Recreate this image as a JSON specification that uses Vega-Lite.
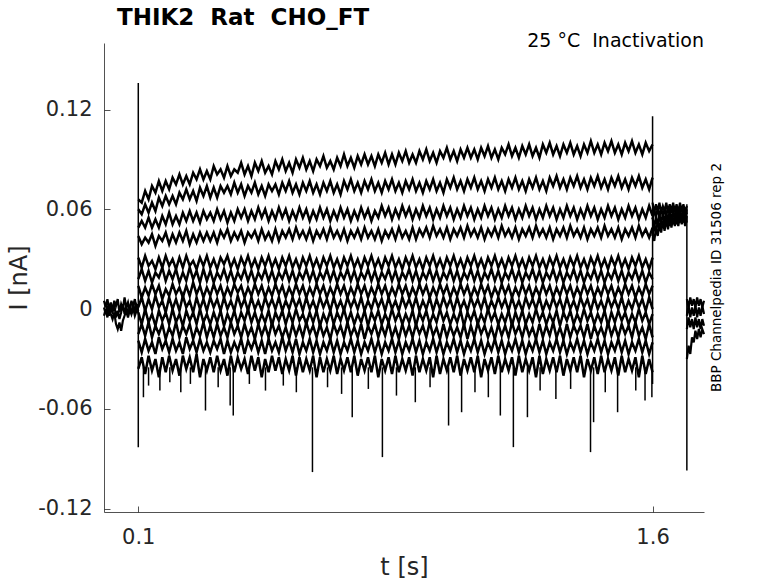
{
  "$schema": "https://vega.github.io/schema/vega-lite/v6.json",
  "width": 600,
  "height": 469,
  "autosize": "none",
  "padding": {"left": 104, "top": 43, "right": 74, "bottom": 71},
  "background": "white",
  "title": {"text": "THIK2\u00a0 Rat\u00a0 CHO_FT", "anchor": "start", "frame": "group", "dx": 13, "offset": -21, "baseline": "bottom", "font": "DejaVu Sans", "fontSize": 23, "fontWeight": "bold", "color": "#000"},
  "config": {
    "view": {"stroke": null},
    "font": "DejaVu Sans",
    "axis": {"grid": false, "domainColor": "#262626", "tickColor": "#262626", "labelColor": "#262626", "titleColor": "#262626", "labelFont": "DejaVu Sans", "titleFont": "DejaVu Sans", "labelFontSize": 21, "titleFontSize": 24, "titleFontWeight": "normal", "domainWidth": 0.8, "tickWidth": 0.8, "tickSize": -6}
  },
  "datasets": {
    "main": [
      {"t":0.1,"a":0.066,"b":0.06,"c":0.049,"d":0.044,"e":0.031,"f":0.018,"g":0.014,"h":0.001,"i":-0.002,"j":-0.015,"k":-0.019,"l":-0.036},
      {"t":0.11,"a":0.064,"b":0.057,"c":0.053,"d":0.039,"e":0.025,"f":0.024,"g":0.007,"h":0.007,"i":-0.009,"j":-0.009,"k":-0.026,"l":-0.029},
      {"t":0.12,"a":0.071,"b":0.063,"c":0.049,"d":0.043,"e":0.032,"f":0.017,"g":0.013,"h":-0.001,"i":0,"j":-0.016,"k":-0.018,"l":-0.039},
      {"t":0.13,"a":0.066,"b":0.058,"c":0.055,"d":0.04,"e":0.026,"f":0.023,"g":0.008,"h":0.006,"i":-0.008,"j":-0.008,"k":-0.025,"l":-0.028},
      {"t":0.14,"a":0.074,"b":0.064,"c":0.049,"d":0.045,"e":0.029,"f":0.016,"g":0.015,"h":0,"i":-0.003,"j":-0.017,"k":-0.02,"l":-0.037},
      {"t":0.15,"a":0.07,"b":0.059,"c":0.054,"d":0.038,"e":0.024,"f":0.022,"g":0.009,"h":0.008,"i":-0.01,"j":-0.01,"k":-0.027,"l":-0.03},
      {"t":0.16,"a":0.077,"b":0.067,"c":0.049,"d":0.044,"e":0.031,"f":0.019,"g":0.014,"h":0.001,"i":-0.001,"j":-0.015,"k":-0.017,"l":-0.041},
      {"t":0.17,"a":0.071,"b":0.062,"c":0.056,"d":0.041,"e":0.025,"f":0.025,"g":0.006,"h":0.005,"i":-0.007,"j":-0.009,"k":-0.024,"l":-0.029},
      {"t":0.18,"a":0.077,"b":0.068,"c":0.051,"d":0.046,"e":0.032,"f":0.017,"g":0.012,"h":-0.002,"i":-0.002,"j":-0.018,"k":-0.019,"l":-0.038},
      {"t":0.19,"a":0.072,"b":0.063,"c":0.058,"d":0.039,"e":0.026,"f":0.023,"g":0.008,"h":0.007,"i":-0.009,"j":-0.011,"k":-0.026,"l":-0.028},
      {"t":0.2,"a":0.079,"b":0.068,"c":0.051,"d":0.045,"e":0.03,"f":0.018,"g":0.015,"h":0,"i":0,"j":-0.016,"k":-0.018,"l":-0.037},
      {"t":0.21,"a":0.075,"b":0.063,"c":0.056,"d":0.04,"e":0.024,"f":0.024,"g":0.009,"h":0.006,"i":-0.008,"j":-0.008,"k":-0.025,"l":-0.03},
      {"t":0.22,"a":0.081,"b":0.07,"c":0.051,"d":0.046,"e":0.031,"f":0.016,"g":0.013,"h":-0.001,"i":-0.003,"j":-0.017,"k":-0.02,"l":-0.04},
      {"t":0.23,"a":0.075,"b":0.066,"c":0.058,"d":0.041,"e":0.025,"f":0.022,"g":0.007,"h":0.008,"i":-0.01,"j":-0.01,"k":-0.027,"l":-0.028},
      {"t":0.24,"a":0.08,"b":0.072,"c":0.053,"d":0.047,"e":0.032,"f":0.017,"g":0.014,"h":0.001,"i":-0.001,"j":-0.015,"k":-0.017,"l":-0.036},
      {"t":0.25,"a":0.075,"b":0.066,"c":0.059,"d":0.039,"e":0.026,"f":0.025,"g":0.008,"h":0.005,"i":-0.007,"j":-0.009,"k":-0.024,"l":-0.029},
      {"t":0.26,"a":0.082,"b":0.071,"c":0.053,"d":0.045,"e":0.029,"f":0.018,"g":0.016,"h":-0.002,"i":-0.002,"j":-0.018,"k":-0.019,"l":-0.038},
      {"t":0.27,"a":0.078,"b":0.065,"c":0.058,"d":0.04,"e":0.024,"f":0.023,"g":0.009,"h":0.007,"i":-0.009,"j":-0.011,"k":-0.026,"l":-0.027},
      {"t":0.28,"a":0.084,"b":0.073,"c":0.052,"d":0.046,"e":0.031,"f":0.016,"g":0.014,"h":0,"i":0,"j":-0.016,"k":-0.018,"l":-0.041},
      {"t":0.29,"a":0.078,"b":0.068,"c":0.059,"d":0.041,"e":0.026,"f":0.024,"g":0.007,"h":0.006,"i":-0.008,"j":-0.008,"k":-0.025,"l":-0.03},
      {"t":0.3,"a":0.083,"b":0.074,"c":0.054,"d":0.046,"e":0.032,"f":0.017,"g":0.013,"h":-0.001,"i":-0.003,"j":-0.017,"k":-0.02,"l":-0.037},
      {"t":0.31,"a":0.078,"b":0.067,"c":0.058,"d":0.041,"e":0.025,"f":0.023,"g":0.008,"h":0.007,"i":-0.009,"j":-0.01,"k":-0.026,"l":-0.029},
      {"t":0.32,"a":0.086,"b":0.073,"c":0.053,"d":0.046,"e":0.03,"f":0.016,"g":0.015,"h":0.001,"i":-0.002,"j":-0.017,"k":-0.019,"l":-0.038},
      {"t":0.33,"a":0.081,"b":0.067,"c":0.06,"d":0.04,"e":0.024,"f":0.022,"g":0.009,"h":0.006,"i":-0.008,"j":-0.009,"k":-0.024,"l":-0.028},
      {"t":0.34,"a":0.084,"b":0.074,"c":0.054,"d":0.047,"e":0.031,"f":0.018,"g":0.014,"h":-0.001,"i":-0.001,"j":-0.016,"k":-0.018,"l":-0.037},
      {"t":0.35,"a":0.079,"b":0.07,"c":0.059,"d":0.043,"e":0.027,"f":0.024,"g":0.007,"h":0.007,"i":-0.01,"j":-0.011,"k":-0.027,"l":-0.03},
      {"t":0.36,"a":0.086,"b":0.074,"c":0.052,"d":0.048,"e":0.032,"f":0.017,"g":0.013,"h":0,"i":-0.003,"j":-0.017,"k":-0.019,"l":-0.04},
      {"t":0.37,"a":0.08,"b":0.069,"c":0.058,"d":0.041,"e":0.025,"f":0.023,"g":0.008,"h":0.005,"i":-0.008,"j":-0.008,"k":-0.026,"l":-0.028},
      {"t":0.38,"a":0.084,"b":0.076,"c":0.053,"d":0.046,"e":0.03,"f":0.016,"g":0.015,"h":-0.001,"i":-0.001,"j":-0.015,"k":-0.02,"l":-0.038},
      {"t":0.39,"a":0.082,"b":0.07,"c":0.06,"d":0.042,"e":0.024,"f":0.022,"g":0.01,"h":0.008,"i":-0.009,"j":-0.01,"k":-0.025,"l":-0.029},
      {"t":0.4,"a":0.088,"b":0.075,"c":0.055,"d":0.047,"e":0.031,"f":0.018,"g":0.014,"h":0.001,"i":-0.002,"j":-0.017,"k":-0.018,"l":-0.036},
      {"t":0.41,"a":0.081,"b":0.068,"c":0.06,"d":0.04,"e":0.026,"f":0.024,"g":0.007,"h":0.006,"i":-0.007,"j":-0.009,"k":-0.027,"l":-0.03},
      {"t":0.42,"a":0.086,"b":0.074,"c":0.053,"d":0.046,"e":0.032,"f":0.017,"g":0.013,"h":-0.001,"i":0,"j":-0.016,"k":-0.019,"l":-0.039},
      {"t":0.43,"a":0.08,"b":0.07,"c":0.059,"d":0.043,"e":0.025,"f":0.023,"g":0.008,"h":0.007,"i":-0.008,"j":-0.011,"k":-0.024,"l":-0.028},
      {"t":0.44,"a":0.088,"b":0.076,"c":0.054,"d":0.047,"e":0.03,"f":0.016,"g":0.015,"h":0,"i":-0.002,"j":-0.018,"k":-0.018,"l":-0.037},
      {"t":0.45,"a":0.083,"b":0.069,"c":0.061,"d":0.041,"e":0.024,"f":0.022,"g":0.009,"h":0.005,"i":-0.009,"j":-0.009,"k":-0.026,"l":-0.029},
      {"t":0.46,"a":0.089,"b":0.074,"c":0.055,"d":0.048,"e":0.031,"f":0.018,"g":0.014,"h":-0.001,"i":-0.003,"j":-0.016,"k":-0.019,"l":-0.041},
      {"t":0.47,"a":0.082,"b":0.068,"c":0.06,"d":0.042,"e":0.026,"f":0.024,"g":0.007,"h":0.007,"i":-0.008,"j":-0.01,"k":-0.027,"l":-0.03},
      {"t":0.48,"a":0.086,"b":0.075,"c":0.053,"d":0.046,"e":0.032,"f":0.017,"g":0.013,"h":0.001,"i":-0.001,"j":-0.017,"k":-0.018,"l":-0.038},
      {"t":0.49,"a":0.081,"b":0.071,"c":0.059,"d":0.041,"e":0.025,"f":0.023,"g":0.008,"h":0.006,"i":-0.01,"j":-0.008,"k":-0.025,"l":-0.028},
      {"t":0.5,"a":0.089,"b":0.075,"c":0.054,"d":0.048,"e":0.03,"f":0.016,"g":0.015,"h":0,"i":-0.002,"j":-0.015,"k":-0.02,"l":-0.037},
      {"t":0.51,"a":0.084,"b":0.069,"c":0.061,"d":0.041,"e":0.024,"f":0.022,"g":0.009,"h":0.007,"i":-0.007,"j":-0.01,"k":-0.026,"l":-0.029},
      {"t":0.52,"a":0.09,"b":0.076,"c":0.055,"d":0.047,"e":0.031,"f":0.018,"g":0.014,"h":-0.001,"i":-0.001,"j":-0.017,"k":-0.017,"l":-0.039},
      {"t":0.53,"a":0.083,"b":0.071,"c":0.06,"d":0.043,"e":0.026,"f":0.024,"g":0.007,"h":0.005,"i":-0.009,"j":-0.011,"k":-0.025,"l":-0.03},
      {"t":0.54,"a":0.088,"b":0.077,"c":0.053,"d":0.048,"e":0.032,"f":0.017,"g":0.013,"h":0,"i":-0.002,"j":-0.018,"k":-0.019,"l":-0.037},
      {"t":0.55,"a":0.082,"b":0.07,"c":0.059,"d":0.042,"e":0.025,"f":0.023,"g":0.008,"h":0.007,"i":-0.008,"j":-0.009,"k":-0.026,"l":-0.028},
      {"t":0.56,"a":0.09,"b":0.075,"c":0.054,"d":0.049,"e":0.03,"f":0.016,"g":0.015,"h":0.001,"i":0,"j":-0.016,"k":-0.018,"l":-0.04},
      {"t":0.57,"a":0.085,"b":0.069,"c":0.061,"d":0.043,"e":0.024,"f":0.022,"g":0.009,"h":0.006,"i":-0.007,"j":-0.01,"k":-0.027,"l":-0.029},
      {"t":0.58,"a":0.091,"b":0.076,"c":0.055,"d":0.047,"e":0.031,"f":0.018,"g":0.014,"h":-0.001,"i":-0.003,"j":-0.017,"k":-0.02,"l":-0.038},
      {"t":0.59,"a":0.084,"b":0.071,"c":0.06,"d":0.042,"e":0.026,"f":0.024,"g":0.007,"h":0.007,"i":-0.009,"j":-0.008,"k":-0.025,"l":-0.03},
      {"t":0.6,"a":0.089,"b":0.077,"c":0.053,"d":0.048,"e":0.032,"f":0.017,"g":0.013,"h":0,"i":-0.002,"j":-0.015,"k":-0.018,"l":-0.037},
      {"t":0.61,"a":0.083,"b":0.07,"c":0.059,"d":0.041,"e":0.025,"f":0.023,"g":0.008,"h":0.005,"i":-0.008,"j":-0.01,"k":-0.026,"l":-0.028},
      {"t":0.62,"a":0.09,"b":0.075,"c":0.054,"d":0.047,"e":0.03,"f":0.016,"g":0.015,"h":-0.001,"i":-0.001,"j":-0.017,"k":-0.019,"l":-0.041},
      {"t":0.63,"a":0.086,"b":0.069,"c":0.061,"d":0.043,"e":0.024,"f":0.022,"g":0.009,"h":0.007,"i":-0.01,"j":-0.009,"k":-0.027,"l":-0.029},
      {"t":0.64,"a":0.092,"b":0.076,"c":0.055,"d":0.048,"e":0.031,"f":0.018,"g":0.014,"h":0.001,"i":-0.003,"j":-0.016,"k":-0.02,"l":-0.038},
      {"t":0.65,"a":0.085,"b":0.071,"c":0.06,"d":0.042,"e":0.026,"f":0.024,"g":0.007,"h":0.006,"i":-0.008,"j":-0.011,"k":-0.025,"l":-0.03},
      {"t":0.66,"a":0.089,"b":0.077,"c":0.053,"d":0.049,"e":0.032,"f":0.017,"g":0.013,"h":-0.001,"i":-0.001,"j":-0.018,"k":-0.018,"l":-0.037},
      {"t":0.67,"a":0.084,"b":0.07,"c":0.059,"d":0.043,"e":0.025,"f":0.023,"g":0.008,"h":0.007,"i":-0.009,"j":-0.009,"k":-0.026,"l":-0.028},
      {"t":0.68,"a":0.091,"b":0.075,"c":0.054,"d":0.047,"e":0.03,"f":0.016,"g":0.015,"h":0,"i":-0.002,"j":-0.015,"k":-0.019,"l":-0.039},
      {"t":0.69,"a":0.086,"b":0.069,"c":0.061,"d":0.042,"e":0.024,"f":0.022,"g":0.009,"h":0.005,"i":-0.007,"j":-0.01,"k":-0.027,"l":-0.03},
      {"t":0.7,"a":0.093,"b":0.077,"c":0.055,"d":0.048,"e":0.031,"f":0.018,"g":0.014,"h":-0.001,"i":0,"j":-0.017,"k":-0.02,"l":-0.037},
      {"t":0.71,"a":0.086,"b":0.072,"c":0.06,"d":0.041,"e":0.026,"f":0.024,"g":0.007,"h":0.007,"i":-0.008,"j":-0.008,"k":-0.025,"l":-0.029},
      {"t":0.72,"a":0.091,"b":0.078,"c":0.053,"d":0.047,"e":0.032,"f":0.017,"g":0.013,"h":0.001,"i":-0.002,"j":-0.016,"k":-0.018,"l":-0.038},
      {"t":0.73,"a":0.085,"b":0.071,"c":0.059,"d":0.043,"e":0.025,"f":0.023,"g":0.008,"h":0.006,"i":-0.009,"j":-0.011,"k":-0.026,"l":-0.028},
      {"t":0.74,"a":0.092,"b":0.076,"c":0.054,"d":0.048,"e":0.03,"f":0.016,"g":0.015,"h":0,"i":-0.003,"j":-0.017,"k":-0.019,"l":-0.04},
      {"t":0.75,"a":0.087,"b":0.07,"c":0.061,"d":0.042,"e":0.024,"f":0.022,"g":0.009,"h":0.007,"i":-0.008,"j":-0.009,"k":-0.027,"l":-0.03},
      {"t":0.76,"a":0.093,"b":0.077,"c":0.055,"d":0.049,"e":0.031,"f":0.018,"g":0.014,"h":-0.001,"i":-0.001,"j":-0.018,"k":-0.02,"l":-0.037},
      {"t":0.77,"a":0.087,"b":0.072,"c":0.06,"d":0.043,"e":0.026,"f":0.024,"g":0.007,"h":0.005,"i":-0.01,"j":-0.01,"k":-0.025,"l":-0.029},
      {"t":0.78,"a":0.092,"b":0.078,"c":0.053,"d":0.047,"e":0.032,"f":0.017,"g":0.013,"h":0,"i":-0.002,"j":-0.015,"k":-0.018,"l":-0.038},
      {"t":0.79,"a":0.086,"b":0.071,"c":0.059,"d":0.042,"e":0.025,"f":0.023,"g":0.008,"h":0.007,"i":-0.007,"j":-0.009,"k":-0.026,"l":-0.028},
      {"t":0.8,"a":0.093,"b":0.076,"c":0.055,"d":0.048,"e":0.03,"f":0.016,"g":0.015,"h":0.001,"i":-0.001,"j":-0.017,"k":-0.019,"l":-0.041},
      {"t":0.81,"a":0.088,"b":0.07,"c":0.062,"d":0.041,"e":0.024,"f":0.022,"g":0.009,"h":0.006,"i":-0.009,"j":-0.01,"k":-0.027,"l":-0.03},
      {"t":0.82,"a":0.094,"b":0.077,"c":0.056,"d":0.047,"e":0.031,"f":0.018,"g":0.014,"h":-0.001,"i":-0.003,"j":-0.016,"k":-0.02,"l":-0.037},
      {"t":0.83,"a":0.087,"b":0.072,"c":0.061,"d":0.043,"e":0.026,"f":0.024,"g":0.007,"h":0.007,"i":-0.008,"j":-0.008,"k":-0.025,"l":-0.029},
      {"t":0.84,"a":0.093,"b":0.078,"c":0.054,"d":0.048,"e":0.032,"f":0.017,"g":0.013,"h":0,"i":0,"j":-0.017,"k":-0.018,"l":-0.039},
      {"t":0.85,"a":0.087,"b":0.071,"c":0.06,"d":0.042,"e":0.025,"f":0.023,"g":0.008,"h":0.005,"i":-0.007,"j":-0.011,"k":-0.026,"l":-0.028},
      {"t":0.86,"a":0.094,"b":0.076,"c":0.055,"d":0.049,"e":0.03,"f":0.016,"g":0.015,"h":-0.001,"i":-0.002,"j":-0.018,"k":-0.019,"l":-0.038},
      {"t":0.87,"a":0.089,"b":0.07,"c":0.062,"d":0.043,"e":0.024,"f":0.022,"g":0.009,"h":0.007,"i":-0.009,"j":-0.009,"k":-0.027,"l":-0.03},
      {"t":0.88,"a":0.095,"b":0.077,"c":0.056,"d":0.047,"e":0.031,"f":0.018,"g":0.014,"h":0.001,"i":-0.003,"j":-0.016,"k":-0.02,"l":-0.037},
      {"t":0.89,"a":0.088,"b":0.072,"c":0.061,"d":0.042,"e":0.026,"f":0.024,"g":0.007,"h":0.006,"i":-0.008,"j":-0.01,"k":-0.025,"l":-0.029},
      {"t":0.9,"a":0.093,"b":0.078,"c":0.054,"d":0.049,"e":0.032,"f":0.017,"g":0.013,"h":0,"i":-0.001,"j":-0.017,"k":-0.018,"l":-0.04},
      {"t":0.91,"a":0.088,"b":0.071,"c":0.06,"d":0.042,"e":0.025,"f":0.023,"g":0.008,"h":0.007,"i":-0.01,"j":-0.009,"k":-0.026,"l":-0.028},
      {"t":0.92,"a":0.095,"b":0.076,"c":0.055,"d":0.048,"e":0.03,"f":0.016,"g":0.015,"h":-0.001,"i":-0.002,"j":-0.015,"k":-0.019,"l":-0.038},
      {"t":0.93,"a":0.09,"b":0.07,"c":0.062,"d":0.044,"e":0.024,"f":0.022,"g":0.009,"h":0.005,"i":-0.007,"j":-0.01,"k":-0.027,"l":-0.03},
      {"t":0.94,"a":0.096,"b":0.077,"c":0.056,"d":0.049,"e":0.031,"f":0.018,"g":0.014,"h":0,"i":-0.001,"j":-0.017,"k":-0.02,"l":-0.037},
      {"t":0.95,"a":0.089,"b":0.072,"c":0.061,"d":0.043,"e":0.026,"f":0.024,"g":0.007,"h":0.007,"i":-0.009,"j":-0.008,"k":-0.025,"l":-0.029},
      {"t":0.96,"a":0.094,"b":0.078,"c":0.054,"d":0.05,"e":0.032,"f":0.017,"g":0.013,"h":-0.001,"i":-0.003,"j":-0.016,"k":-0.018,"l":-0.041},
      {"t":0.97,"a":0.088,"b":0.071,"c":0.06,"d":0.044,"e":0.025,"f":0.023,"g":0.008,"h":0.006,"i":-0.008,"j":-0.011,"k":-0.026,"l":-0.028},
      {"t":0.98,"a":0.095,"b":0.076,"c":0.055,"d":0.048,"e":0.03,"f":0.016,"g":0.015,"h":0,"i":0,"j":-0.018,"k":-0.019,"l":-0.039},
      {"t":0.99,"a":0.091,"b":0.07,"c":0.062,"d":0.043,"e":0.024,"f":0.022,"g":0.009,"h":0.007,"i":-0.007,"j":-0.009,"k":-0.027,"l":-0.03},
      {"t":1.0,"a":0.097,"b":0.078,"c":0.056,"d":0.049,"e":0.031,"f":0.018,"g":0.014,"h":0.001,"i":-0.002,"j":-0.017,"k":-0.02,"l":-0.037},
      {"t":1.01,"a":0.09,"b":0.073,"c":0.061,"d":0.042,"e":0.026,"f":0.024,"g":0.007,"h":0.006,"i":-0.009,"j":-0.01,"k":-0.025,"l":-0.029},
      {"t":1.02,"a":0.095,"b":0.079,"c":0.054,"d":0.048,"e":0.032,"f":0.017,"g":0.013,"h":-0.001,"i":-0.003,"j":-0.016,"k":-0.018,"l":-0.038},
      {"t":1.03,"a":0.089,"b":0.072,"c":0.06,"d":0.044,"e":0.025,"f":0.023,"g":0.008,"h":0.007,"i":-0.008,"j":-0.011,"k":-0.026,"l":-0.028},
      {"t":1.04,"a":0.096,"b":0.077,"c":0.055,"d":0.049,"e":0.03,"f":0.016,"g":0.015,"h":0,"i":-0.001,"j":-0.017,"k":-0.019,"l":-0.04},
      {"t":1.05,"a":0.091,"b":0.071,"c":0.062,"d":0.043,"e":0.024,"f":0.022,"g":0.009,"h":0.005,"i":-0.01,"j":-0.009,"k":-0.027,"l":-0.03},
      {"t":1.06,"a":0.097,"b":0.078,"c":0.056,"d":0.05,"e":0.031,"f":0.018,"g":0.014,"h":-0.001,"i":-0.002,"j":-0.018,"k":-0.02,"l":-0.037},
      {"t":1.07,"a":0.091,"b":0.073,"c":0.061,"d":0.044,"e":0.026,"f":0.024,"g":0.007,"h":0.007,"i":-0.007,"j":-0.01,"k":-0.025,"l":-0.029},
      {"t":1.08,"a":0.096,"b":0.079,"c":0.054,"d":0.048,"e":0.032,"f":0.017,"g":0.013,"h":0.001,"i":-0.001,"j":-0.017,"k":-0.018,"l":-0.038},
      {"t":1.09,"a":0.09,"b":0.072,"c":0.06,"d":0.043,"e":0.025,"f":0.023,"g":0.008,"h":0.006,"i":-0.009,"j":-0.008,"k":-0.026,"l":-0.028},
      {"t":1.1,"a":0.097,"b":0.077,"c":0.055,"d":0.049,"e":0.03,"f":0.016,"g":0.015,"h":0,"i":-0.003,"j":-0.015,"k":-0.019,"l":-0.041},
      {"t":1.11,"a":0.092,"b":0.071,"c":0.062,"d":0.042,"e":0.024,"f":0.022,"g":0.009,"h":0.007,"i":-0.008,"j":-0.01,"k":-0.027,"l":-0.03},
      {"t":1.12,"a":0.098,"b":0.078,"c":0.056,"d":0.048,"e":0.031,"f":0.018,"g":0.014,"h":-0.001,"i":0,"j":-0.017,"k":-0.02,"l":-0.037},
      {"t":1.13,"a":0.091,"b":0.073,"c":0.061,"d":0.044,"e":0.026,"f":0.024,"g":0.007,"h":0.005,"i":-0.007,"j":-0.011,"k":-0.025,"l":-0.029},
      {"t":1.14,"a":0.096,"b":0.079,"c":0.054,"d":0.049,"e":0.032,"f":0.017,"g":0.013,"h":0,"i":-0.002,"j":-0.018,"k":-0.018,"l":-0.039},
      {"t":1.15,"a":0.09,"b":0.072,"c":0.06,"d":0.043,"e":0.025,"f":0.023,"g":0.008,"h":0.007,"i":-0.009,"j":-0.009,"k":-0.026,"l":-0.028},
      {"t":1.16,"a":0.097,"b":0.077,"c":0.055,"d":0.05,"e":0.03,"f":0.016,"g":0.015,"h":0.001,"i":-0.003,"j":-0.016,"k":-0.019,"l":-0.038},
      {"t":1.17,"a":0.093,"b":0.071,"c":0.062,"d":0.044,"e":0.024,"f":0.022,"g":0.009,"h":0.006,"i":-0.008,"j":-0.01,"k":-0.027,"l":-0.03},
      {"t":1.18,"a":0.099,"b":0.078,"c":0.056,"d":0.048,"e":0.031,"f":0.018,"g":0.014,"h":-0.001,"i":-0.001,"j":-0.017,"k":-0.02,"l":-0.037},
      {"t":1.19,"a":0.092,"b":0.073,"c":0.061,"d":0.043,"e":0.026,"f":0.024,"g":0.007,"h":0.007,"i":-0.01,"j":-0.008,"k":-0.025,"l":-0.029},
      {"t":1.2,"a":0.097,"b":0.079,"c":0.054,"d":0.049,"e":0.032,"f":0.017,"g":0.013,"h":0,"i":-0.002,"j":-0.015,"k":-0.018,"l":-0.04},
      {"t":1.21,"a":0.091,"b":0.072,"c":0.06,"d":0.042,"e":0.025,"f":0.023,"g":0.008,"h":0.005,"i":-0.008,"j":-0.01,"k":-0.026,"l":-0.028},
      {"t":1.22,"a":0.098,"b":0.077,"c":0.055,"d":0.048,"e":0.03,"f":0.016,"g":0.015,"h":-0.001,"i":-0.001,"j":-0.017,"k":-0.019,"l":-0.038},
      {"t":1.23,"a":0.093,"b":0.071,"c":0.062,"d":0.044,"e":0.024,"f":0.022,"g":0.009,"h":0.007,"i":-0.009,"j":-0.009,"k":-0.027,"l":-0.03},
      {"t":1.24,"a":0.099,"b":0.078,"c":0.056,"d":0.049,"e":0.031,"f":0.018,"g":0.014,"h":0.001,"i":-0.003,"j":-0.016,"k":-0.02,"l":-0.037},
      {"t":1.25,"a":0.092,"b":0.073,"c":0.061,"d":0.043,"e":0.026,"f":0.024,"g":0.007,"h":0.006,"i":-0.008,"j":-0.011,"k":-0.025,"l":-0.029},
      {"t":1.26,"a":0.097,"b":0.079,"c":0.054,"d":0.05,"e":0.032,"f":0.017,"g":0.013,"h":0,"i":0,"j":-0.018,"k":-0.018,"l":-0.041},
      {"t":1.27,"a":0.091,"b":0.072,"c":0.06,"d":0.044,"e":0.025,"f":0.023,"g":0.008,"h":0.007,"i":-0.007,"j":-0.009,"k":-0.026,"l":-0.028},
      {"t":1.28,"a":0.099,"b":0.077,"c":0.055,"d":0.048,"e":0.03,"f":0.016,"g":0.015,"h":-0.001,"i":-0.002,"j":-0.017,"k":-0.019,"l":-0.039},
      {"t":1.29,"a":0.094,"b":0.071,"c":0.062,"d":0.043,"e":0.024,"f":0.022,"g":0.009,"h":0.005,"i":-0.009,"j":-0.01,"k":-0.027,"l":-0.03},
      {"t":1.3,"a":0.1,"b":0.079,"c":0.056,"d":0.049,"e":0.031,"f":0.018,"g":0.014,"h":0,"i":-0.003,"j":-0.016,"k":-0.02,"l":-0.037},
      {"t":1.31,"a":0.093,"b":0.074,"c":0.061,"d":0.042,"e":0.026,"f":0.024,"g":0.007,"h":0.007,"i":-0.008,"j":-0.008,"k":-0.025,"l":-0.029},
      {"t":1.32,"a":0.098,"b":0.08,"c":0.054,"d":0.048,"e":0.032,"f":0.017,"g":0.013,"h":0.001,"i":-0.001,"j":-0.017,"k":-0.018,"l":-0.038},
      {"t":1.33,"a":0.092,"b":0.073,"c":0.06,"d":0.044,"e":0.025,"f":0.023,"g":0.008,"h":0.006,"i":-0.01,"j":-0.011,"k":-0.026,"l":-0.028},
      {"t":1.34,"a":0.099,"b":0.078,"c":0.055,"d":0.049,"e":0.03,"f":0.016,"g":0.015,"h":-0.001,"i":-0.002,"j":-0.018,"k":-0.019,"l":-0.04},
      {"t":1.35,"a":0.094,"b":0.072,"c":0.062,"d":0.043,"e":0.024,"f":0.022,"g":0.009,"h":0.007,"i":-0.007,"j":-0.009,"k":-0.027,"l":-0.03},
      {"t":1.36,"a":0.1,"b":0.079,"c":0.056,"d":0.05,"e":0.031,"f":0.018,"g":0.014,"h":0,"i":-0.001,"j":-0.017,"k":-0.02,"l":-0.037},
      {"t":1.37,"a":0.093,"b":0.074,"c":0.061,"d":0.044,"e":0.026,"f":0.024,"g":0.007,"h":0.005,"i":-0.009,"j":-0.01,"k":-0.025,"l":-0.029},
      {"t":1.38,"a":0.098,"b":0.08,"c":0.054,"d":0.048,"e":0.032,"f":0.017,"g":0.013,"h":-0.001,"i":-0.003,"j":-0.015,"k":-0.018,"l":-0.038},
      {"t":1.39,"a":0.092,"b":0.073,"c":0.06,"d":0.043,"e":0.025,"f":0.023,"g":0.008,"h":0.007,"i":-0.008,"j":-0.01,"k":-0.026,"l":-0.028},
      {"t":1.4,"a":0.099,"b":0.078,"c":0.055,"d":0.049,"e":0.03,"f":0.016,"g":0.015,"h":0.001,"i":0,"j":-0.017,"k":-0.019,"l":-0.041},
      {"t":1.41,"a":0.094,"b":0.072,"c":0.062,"d":0.042,"e":0.024,"f":0.022,"g":0.009,"h":0.006,"i":-0.007,"j":-0.009,"k":-0.027,"l":-0.03},
      {"t":1.42,"a":0.101,"b":0.079,"c":0.056,"d":0.048,"e":0.031,"f":0.018,"g":0.014,"h":-0.001,"i":-0.002,"j":-0.018,"k":-0.02,"l":-0.037},
      {"t":1.43,"a":0.094,"b":0.074,"c":0.061,"d":0.044,"e":0.026,"f":0.024,"g":0.007,"h":0.007,"i":-0.009,"j":-0.01,"k":-0.025,"l":-0.029},
      {"t":1.44,"a":0.099,"b":0.08,"c":0.054,"d":0.049,"e":0.032,"f":0.017,"g":0.013,"h":0,"i":-0.003,"j":-0.016,"k":-0.018,"l":-0.039},
      {"t":1.45,"a":0.093,"b":0.073,"c":0.06,"d":0.043,"e":0.025,"f":0.023,"g":0.008,"h":0.005,"i":-0.008,"j":-0.011,"k":-0.026,"l":-0.028},
      {"t":1.46,"a":0.1,"b":0.078,"c":0.055,"d":0.05,"e":0.03,"f":0.016,"g":0.015,"h":-0.001,"i":-0.001,"j":-0.017,"k":-0.019,"l":-0.038},
      {"t":1.47,"a":0.095,"b":0.072,"c":0.062,"d":0.044,"e":0.024,"f":0.022,"g":0.009,"h":0.007,"i":-0.01,"j":-0.008,"k":-0.027,"l":-0.03},
      {"t":1.48,"a":0.101,"b":0.079,"c":0.056,"d":0.048,"e":0.031,"f":0.018,"g":0.014,"h":0.001,"i":-0.002,"j":-0.016,"k":-0.02,"l":-0.037},
      {"t":1.49,"a":0.094,"b":0.074,"c":0.061,"d":0.043,"e":0.026,"f":0.024,"g":0.007,"h":0.006,"i":-0.008,"j":-0.01,"k":-0.025,"l":-0.029},
      {"t":1.5,"a":0.099,"b":0.08,"c":0.054,"d":0.049,"e":0.032,"f":0.017,"g":0.013,"h":0,"i":-0.001,"j":-0.017,"k":-0.018,"l":-0.04},
      {"t":1.51,"a":0.093,"b":0.073,"c":0.06,"d":0.042,"e":0.025,"f":0.023,"g":0.008,"h":0.007,"i":-0.007,"j":-0.009,"k":-0.026,"l":-0.028},
      {"t":1.52,"a":0.1,"b":0.078,"c":0.055,"d":0.048,"e":0.03,"f":0.016,"g":0.015,"h":-0.001,"i":-0.002,"j":-0.015,"k":-0.019,"l":-0.038},
      {"t":1.53,"a":0.095,"b":0.072,"c":0.062,"d":0.044,"e":0.024,"f":0.022,"g":0.009,"h":0.005,"i":-0.009,"j":-0.01,"k":-0.027,"l":-0.03},
      {"t":1.54,"a":0.101,"b":0.079,"c":0.056,"d":0.049,"e":0.031,"f":0.018,"g":0.014,"h":0,"i":-0.003,"j":-0.017,"k":-0.02,"l":-0.037},
      {"t":1.55,"a":0.094,"b":0.074,"c":0.061,"d":0.043,"e":0.026,"f":0.024,"g":0.007,"h":0.007,"i":-0.008,"j":-0.008,"k":-0.025,"l":-0.029},
      {"t":1.56,"a":0.099,"b":0.08,"c":0.054,"d":0.05,"e":0.032,"f":0.017,"g":0.013,"h":0.001,"i":0,"j":-0.016,"k":-0.018,"l":-0.041},
      {"t":1.57,"a":0.093,"b":0.073,"c":0.06,"d":0.044,"e":0.025,"f":0.023,"g":0.008,"h":0.006,"i":-0.007,"j":-0.011,"k":-0.026,"l":-0.028},
      {"t":1.58,"a":0.1,"b":0.078,"c":0.055,"d":0.048,"e":0.03,"f":0.016,"g":0.015,"h":-0.001,"i":-0.002,"j":-0.018,"k":-0.019,"l":-0.039},
      {"t":1.59,"a":0.095,"b":0.072,"c":0.062,"d":0.043,"e":0.024,"f":0.022,"g":0.009,"h":0.007,"i":-0.009,"j":-0.009,"k":-0.027,"l":-0.03},
      {"t":1.6,"a":0.099,"b":0.079,"c":0.056,"d":0.049,"e":0.031,"f":0.018,"g":0.014,"h":0,"i":-0.003,"j":-0.017,"k":-0.02,"l":-0.038}
    ],
    "base": [
      {"t":0,"p":0.005,"q":-0.004,"r":0.001},
      {"t":0.005,"p":0.001,"q":0,"r":-0.003},
      {"t":0.01,"p":0.006,"q":-0.005,"r":0.002},
      {"t":0.015,"p":0,"q":0.001,"r":-0.004},
      {"t":0.02,"p":0.004,"q":-0.003,"r":0},
      {"t":0.025,"p":-0.001,"q":-0.006,"r":-0.002},
      {"t":0.03,"p":0.005,"q":-0.002,"r":0.003},
      {"t":0.035,"p":0.002,"q":-0.009,"r":-0.005},
      {"t":0.04,"p":0.006,"q":-0.012,"r":-0.001},
      {"t":0.045,"p":-0.002,"q":-0.008,"r":-0.006},
      {"t":0.05,"p":0.003,"q":-0.013,"r":-0.002},
      {"t":0.055,"p":0,"q":-0.007,"r":0.003},
      {"t":0.06,"p":0.007,"q":-0.004,"r":-0.003},
      {"t":0.065,"p":0.001,"q":-0.001,"r":0.002},
      {"t":0.07,"p":0.004,"q":-0.005,"r":-0.004},
      {"t":0.075,"p":-0.001,"q":0,"r":0.001},
      {"t":0.08,"p":0.005,"q":-0.003,"r":-0.003},
      {"t":0.085,"p":0.002,"q":0.001,"r":0.004},
      {"t":0.09,"p":0.006,"q":-0.004,"r":-0.002},
      {"t":0.095,"p":0,"q":-0.001,"r":0.002},
      {"t":0.1,"p":0.003,"q":-0.002,"r":-0.001}
    ],
    "tail": [
      {"t":1.6,"p1":0.064,"p2":0.054,"p3":0.055,"p4":0.044,"p5":0.045},
      {"t":1.605,"p1":0.058,"p2":0.06,"p3":0.049,"p4":0.051,"p5":0.041},
      {"t":1.61,"p1":0.063,"p2":0.055,"p3":0.056,"p4":0.046,"p5":0.049},
      {"t":1.615,"p1":0.059,"p2":0.061,"p3":0.05,"p4":0.053,"p5":0.044},
      {"t":1.62,"p1":0.064,"p2":0.055,"p3":0.057,"p4":0.048,"p5":0.051},
      {"t":1.625,"p1":0.058,"p2":0.061,"p3":0.051,"p4":0.054,"p5":0.046},
      {"t":1.63,"p1":0.062,"p2":0.056,"p3":0.058,"p4":0.049,"p5":0.053},
      {"t":1.635,"p1":0.059,"p2":0.06,"p3":0.052,"p4":0.055,"p5":0.047},
      {"t":1.64,"p1":0.064,"p2":0.056,"p3":0.058,"p4":0.05,"p5":0.054},
      {"t":1.645,"p1":0.058,"p2":0.062,"p3":0.053,"p4":0.056,"p5":0.048},
      {"t":1.65,"p1":0.063,"p2":0.056,"p3":0.059,"p4":0.05,"p5":0.055},
      {"t":1.655,"p1":0.059,"p2":0.061,"p3":0.053,"p4":0.057,"p5":0.049},
      {"t":1.66,"p1":0.064,"p2":0.057,"p3":0.059,"p4":0.051,"p5":0.055},
      {"t":1.665,"p1":0.058,"p2":0.062,"p3":0.054,"p4":0.057,"p5":0.05},
      {"t":1.67,"p1":0.063,"p2":0.056,"p3":0.06,"p4":0.051,"p5":0.056},
      {"t":1.675,"p1":0.058,"p2":0.061,"p3":0.054,"p4":0.057,"p5":0.05},
      {"t":1.68,"p1":0.064,"p2":0.057,"p3":0.06,"p4":0.052,"p5":0.056},
      {"t":1.685,"p1":0.059,"p2":0.062,"p3":0.054,"p4":0.058,"p5":0.051},
      {"t":1.69,"p1":0.063,"p2":0.056,"p3":0.059,"p4":0.052,"p5":0.056},
      {"t":1.695,"p1":0.058,"p2":0.061,"p3":0.055,"p4":0.058,"p5":0.05},
      {"t":1.7,"p1":0.062,"p2":0.057,"p3":0.06,"p4":0.052,"p5":0.056}
    ],
    "post": [
      {"t":1.7,"s1":0.006,"s2":-0.004,"s3":-0.012,"s4":-0.03},
      {"t":1.705,"s1":0.001,"s2":0.002,"s3":-0.005,"s4":-0.022},
      {"t":1.71,"s1":0.007,"s2":-0.005,"s3":-0.011,"s4":-0.027},
      {"t":1.715,"s1":0.002,"s2":0.001,"s3":-0.006,"s4":-0.017},
      {"t":1.72,"s1":0.006,"s2":-0.004,"s3":-0.012,"s4":-0.02},
      {"t":1.725,"s1":0.001,"s2":0.002,"s3":-0.005,"s4":-0.013},
      {"t":1.73,"s1":0.007,"s2":-0.005,"s3":-0.011,"s4":-0.018},
      {"t":1.735,"s1":0.002,"s2":0.001,"s3":-0.006,"s4":-0.012},
      {"t":1.74,"s1":0.006,"s2":-0.004,"s3":-0.012,"s4":-0.017},
      {"t":1.745,"s1":0.001,"s2":0.002,"s3":-0.006,"s4":-0.012},
      {"t":1.75,"s1":0.005,"s2":-0.003,"s3":-0.01,"s4":-0.015}
    ],
    "spikes": [
      {"t":0.1,"lo":-0.083,"hi":0.136},
      {"t":1.6,"lo":-0.045,"hi":0.116},
      {"t":1.7,"lo":-0.097,"hi":0.063},
      {"t":0.115,"lo":-0.053,"hi":-0.035},
      {"t":0.13,"lo":-0.046,"hi":-0.035},
      {"t":0.163,"lo":-0.049,"hi":-0.035},
      {"t":0.192,"lo":-0.044,"hi":-0.035},
      {"t":0.224,"lo":-0.05,"hi":-0.035},
      {"t":0.252,"lo":-0.045,"hi":-0.035},
      {"t":0.296,"lo":-0.061,"hi":-0.035},
      {"t":0.333,"lo":-0.047,"hi":-0.035},
      {"t":0.368,"lo":-0.058,"hi":-0.035},
      {"t":0.377,"lo":-0.064,"hi":-0.035},
      {"t":0.424,"lo":-0.045,"hi":-0.035},
      {"t":0.471,"lo":-0.049,"hi":-0.035},
      {"t":0.523,"lo":-0.046,"hi":-0.035},
      {"t":0.561,"lo":-0.05,"hi":-0.035},
      {"t":0.608,"lo":-0.098,"hi":-0.035},
      {"t":0.652,"lo":-0.047,"hi":-0.035},
      {"t":0.693,"lo":-0.051,"hi":-0.035},
      {"t":0.724,"lo":-0.065,"hi":-0.035},
      {"t":0.771,"lo":-0.048,"hi":-0.035},
      {"t":0.812,"lo":-0.089,"hi":-0.035},
      {"t":0.853,"lo":-0.052,"hi":-0.035},
      {"t":0.908,"lo":-0.056,"hi":-0.035},
      {"t":0.951,"lo":-0.047,"hi":-0.035},
      {"t":1.005,"lo":-0.07,"hi":-0.035},
      {"t":1.043,"lo":-0.062,"hi":-0.035},
      {"t":1.082,"lo":-0.05,"hi":-0.035},
      {"t":1.121,"lo":-0.053,"hi":-0.035},
      {"t":1.156,"lo":-0.064,"hi":-0.035},
      {"t":1.194,"lo":-0.083,"hi":-0.035},
      {"t":1.235,"lo":-0.065,"hi":-0.035},
      {"t":1.272,"lo":-0.049,"hi":-0.035},
      {"t":1.318,"lo":-0.054,"hi":-0.035},
      {"t":1.361,"lo":-0.048,"hi":-0.035},
      {"t":1.419,"lo":-0.086,"hi":-0.035},
      {"t":1.428,"lo":-0.068,"hi":-0.035},
      {"t":1.462,"lo":-0.05,"hi":-0.035},
      {"t":1.498,"lo":-0.062,"hi":-0.035},
      {"t":1.551,"lo":-0.049,"hi":-0.035},
      {"t":1.578,"lo":-0.055,"hi":-0.035},
      {"t":1.598,"lo":-0.053,"hi":-0.035}
    ]
  },
  "layer": [
    {
      "data": {"name": "main"},
      "transform": [{"fold": ["a","b","c","d","e","f","g","h","i","j","k","l"], "as": ["trace", "cur"]}],
      "mark": {"type": "line", "color": "#000", "strokeWidth": 2.5},
      "encoding": {
        "x": {"field": "t", "type": "quantitative", "title": "t [s]", "scale": {"domain": [0, 1.75], "nice": false, "zero": false}, "axis": {"values": [0.1, 1.6], "format": ".1f", "labelPadding": 20, "titlePadding": 8}},
        "y": {"field": "cur", "type": "quantitative", "title": "I [nA]", "scale": {"domain": [-0.122, 0.16], "nice": false, "zero": false}, "axis": {"values": [-0.12, -0.06, 0, 0.06, 0.12], "labelExpr": "replace(format(datum.value, '.2~f'), '−', '-')", "labelPadding": 18, "titlePadding": 6}},
        "detail": {"field": "trace"}
      }
    },
    {
      "data": {"name": "base"},
      "transform": [{"fold": ["p","q","r"], "as": ["trace", "cur"]}],
      "mark": {"type": "line", "color": "#000", "strokeWidth": 2.2},
      "encoding": {
        "x": {"field": "t", "type": "quantitative", "title": "t [s]"},
        "y": {"field": "cur", "type": "quantitative", "title": "I [nA]"},
        "detail": {"field": "trace"}
      }
    },
    {
      "data": {"name": "tail"},
      "transform": [{"fold": ["p1","p2","p3","p4","p5"], "as": ["trace", "cur"]}],
      "mark": {"type": "line", "color": "#000", "strokeWidth": 2.2},
      "encoding": {
        "x": {"field": "t", "type": "quantitative", "title": "t [s]"},
        "y": {"field": "cur", "type": "quantitative", "title": "I [nA]"},
        "detail": {"field": "trace"}
      }
    },
    {
      "data": {"name": "post"},
      "transform": [{"fold": ["s1","s2","s3","s4"], "as": ["trace", "cur"]}],
      "mark": {"type": "line", "color": "#000", "strokeWidth": 2.2},
      "encoding": {
        "x": {"field": "t", "type": "quantitative", "title": "t [s]"},
        "y": {"field": "cur", "type": "quantitative", "title": "I [nA]"},
        "detail": {"field": "trace"}
      }
    },
    {
      "data": {"name": "spikes"},
      "mark": {"type": "rule", "color": "#000", "strokeWidth": 1.5},
      "encoding": {
        "x": {"field": "t", "type": "quantitative", "title": "t [s]"},
        "y": {"field": "lo", "type": "quantitative", "title": "I [nA]"},
        "y2": {"field": "hi"}
      }
    },
    {
      "data": {"values": [{"label": "25 °C\u00a0 Inactivation"}]},
      "mark": {"type": "text", "align": "right", "baseline": "alphabetic", "dy": 4, "font": "DejaVu Sans", "fontSize": 19, "color": "#000"},
      "encoding": {
        "x": {"datum": 1.75},
        "y": {"datum": 0.16},
        "text": {"field": "label"}
      }
    },
    {
      "data": {"values": [{"label": "BBP Channelpedia ID 31506 rep 2"}]},
      "mark": {"type": "text", "align": "center", "baseline": "middle", "angle": 270, "dy": 13, "font": "DejaVu Sans", "fontSize": 13.5, "color": "#000"},
      "encoding": {
        "x": {"datum": 1.75},
        "y": {"datum": 0.019},
        "text": {"field": "label"}
      }
    }
  ]
}
